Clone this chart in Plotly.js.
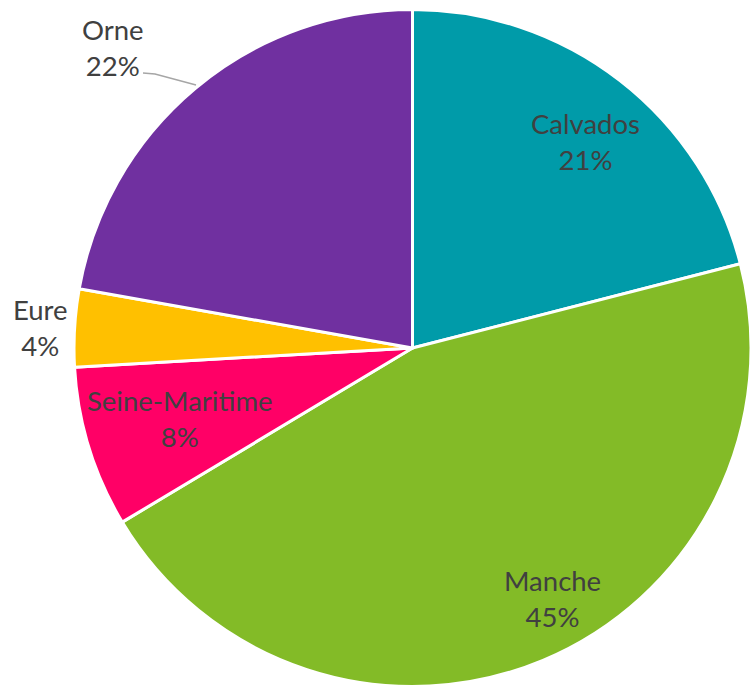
<!DOCTYPE html>
<html>
<head>
<meta charset="utf-8">
<script src="https://cdn.plot.ly/plotly-3.0.1.min.js"></script>
<style>html,body{margin:0;padding:0;background:#fff;overflow:hidden}</style>
</head>
<body>
<div id="chart" style="width:751px;height:689px"></div>
<script>
// Data
const departements = ["Calvados", "Manche", "Seine-Maritime", "Eure", "Orne"];
const parts = [21.0, 45.4, 7.7, 3.7, 22.2];
const couleurs = ["#009BA9", "#83BB27", "#FF0066", "#FFC000", "#7030A0"];

// Label placement (pixel centers of each label block)
const labelPx = [[585, 141], [552, 598], [180, 418], [40, 327], [113, 48]];

const W = 751, H = 689, MT = 7, MB = 0;
const plotH = H - MT - MB;
const total = parts.reduce((a, b) => a + b, 0);

const annotations = departements.map((d, i) => ({
  xref: "paper", yref: "paper",
  x: labelPx[i][0] / W,
  y: 1 - (labelPx[i][1] - MT) / plotH,
  xanchor: "center", yanchor: "middle",
  text: d + "<br>" + Math.round(parts[i] / total * 100) + "%",
  showarrow: false,
  align: "center",
  font: {family: "Lato, 'Open Sans', sans-serif", size: 27.5, color: "#404040"}
}));

const toX = px => px / W, toY = py => 1 - (py - MT) / plotH;
const leader = {
  type: "path", xref: "paper", yref: "paper",
  path: "M " + toX(143) + "," + toY(73) + " L " + toX(155) + "," + toY(74) + " L " + toX(196) + "," + toY(85),
  line: {color: "#A6A6A6", width: 1.5}
};

const trace = {
  type: "pie",
  labels: departements,
  values: parts,
  sort: false,
  direction: "clockwise",
  rotation: 0,
  textinfo: "none",
  hoverinfo: "label+percent",
  marker: {colors: couleurs, line: {color: "#ffffff", width: 3}},
  domain: {x: [74 / W, 1], y: [0, 1]},
  showlegend: false
};

Plotly.newPlot("chart", [trace], {
  width: W, height: H,
  margin: {l: 0, r: 0, t: MT, b: MB, pad: 0},
  paper_bgcolor: "#ffffff",
  plot_bgcolor: "#ffffff",
  showlegend: false,
  annotations: annotations,
  shapes: [leader]
}, {displayModeBar: false, staticPlot: true});
</script>
</body>
</html>
